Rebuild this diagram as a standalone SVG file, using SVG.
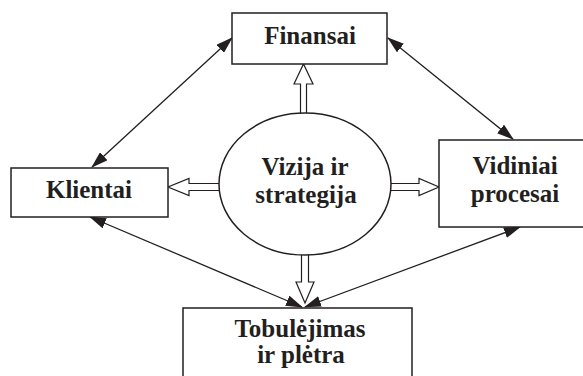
<svg xmlns="http://www.w3.org/2000/svg" width="583" height="376" viewBox="0 0 583 376">
<style>
.box{fill:#fff;stroke:#231f20;stroke-width:1.5}
.lbl{font-family:"Liberation Serif","Times New Roman",serif;font-weight:bold;font-size:25px;fill:#231f20;text-anchor:middle}
.thin{stroke:#231f20;stroke-width:1.3;fill:none;marker-start:url(#ah);marker-end:url(#ah)}
.hollow{fill:#fff;stroke:#231f20;stroke-width:1.2;stroke-linejoin:miter}
</style>
<defs>
<marker id="ah" markerUnits="userSpaceOnUse" markerWidth="17" markerHeight="11" refX="16" refY="5.5" orient="auto-start-reverse" viewBox="0 0 17 11">
<path d="M0,0 L17,5.5 L0,11 z" fill="#231f20"/>
</marker>
</defs>
<rect width="583" height="376" fill="#fff"/>
<g id="connectors">
<line class="thin" x1="232" y1="38" x2="92" y2="167"/>
<line class="thin" x1="388" y1="38" x2="513" y2="139"/>
<line class="thin" x1="90" y1="217" x2="302" y2="307"/>
<line class="thin" x1="520" y1="227" x2="305" y2="307"/>
<polygon class="hollow" points="300.5,118 300.5,84 294,84 303.5,64 313,84 306.5,84 306.5,118"/>
<polygon class="hollow" points="225,183.5 189,183.5 189,178.5 168,187 189,195.5 189,190.5 225,190.5"/>
<polygon class="hollow" points="385,183.5 419,183.5 419,178.5 439,187 419,195.5 419,190.5 385,190.5"/>
<polygon class="hollow" points="301.5,250 301.5,282 296,282 305,303 314,282 308.5,282 308.5,250"/>
</g>
<g id="vizija">
<ellipse class="box" cx="305" cy="184" rx="86" ry="71"/>
<text class="lbl" x="305" y="175">Vizija ir</text>
<text class="lbl" x="306" y="203">strategija</text>
</g>
<g id="finansai">
<rect class="box" x="232" y="13" width="155" height="51"/>
<text class="lbl" x="310" y="44">Finansai</text>
</g>
<g id="klientai">
<rect class="box" x="11" y="168" width="157" height="49"/>
<text class="lbl" x="89" y="198">Klientai</text>
</g>
<g id="vidiniai">
<rect class="box" x="439" y="140" width="152" height="87"/>
<text class="lbl" x="515" y="174">Vidiniai</text>
<text class="lbl" x="515" y="202">procesai</text>
</g>
<g id="tobulejimas">
<rect class="box" x="183" y="308" width="229" height="80"/>
<text class="lbl" x="300" y="337">Tobulėjimas</text>
<text class="lbl" x="301" y="363">ir plėtra</text>
</g>
</svg>
